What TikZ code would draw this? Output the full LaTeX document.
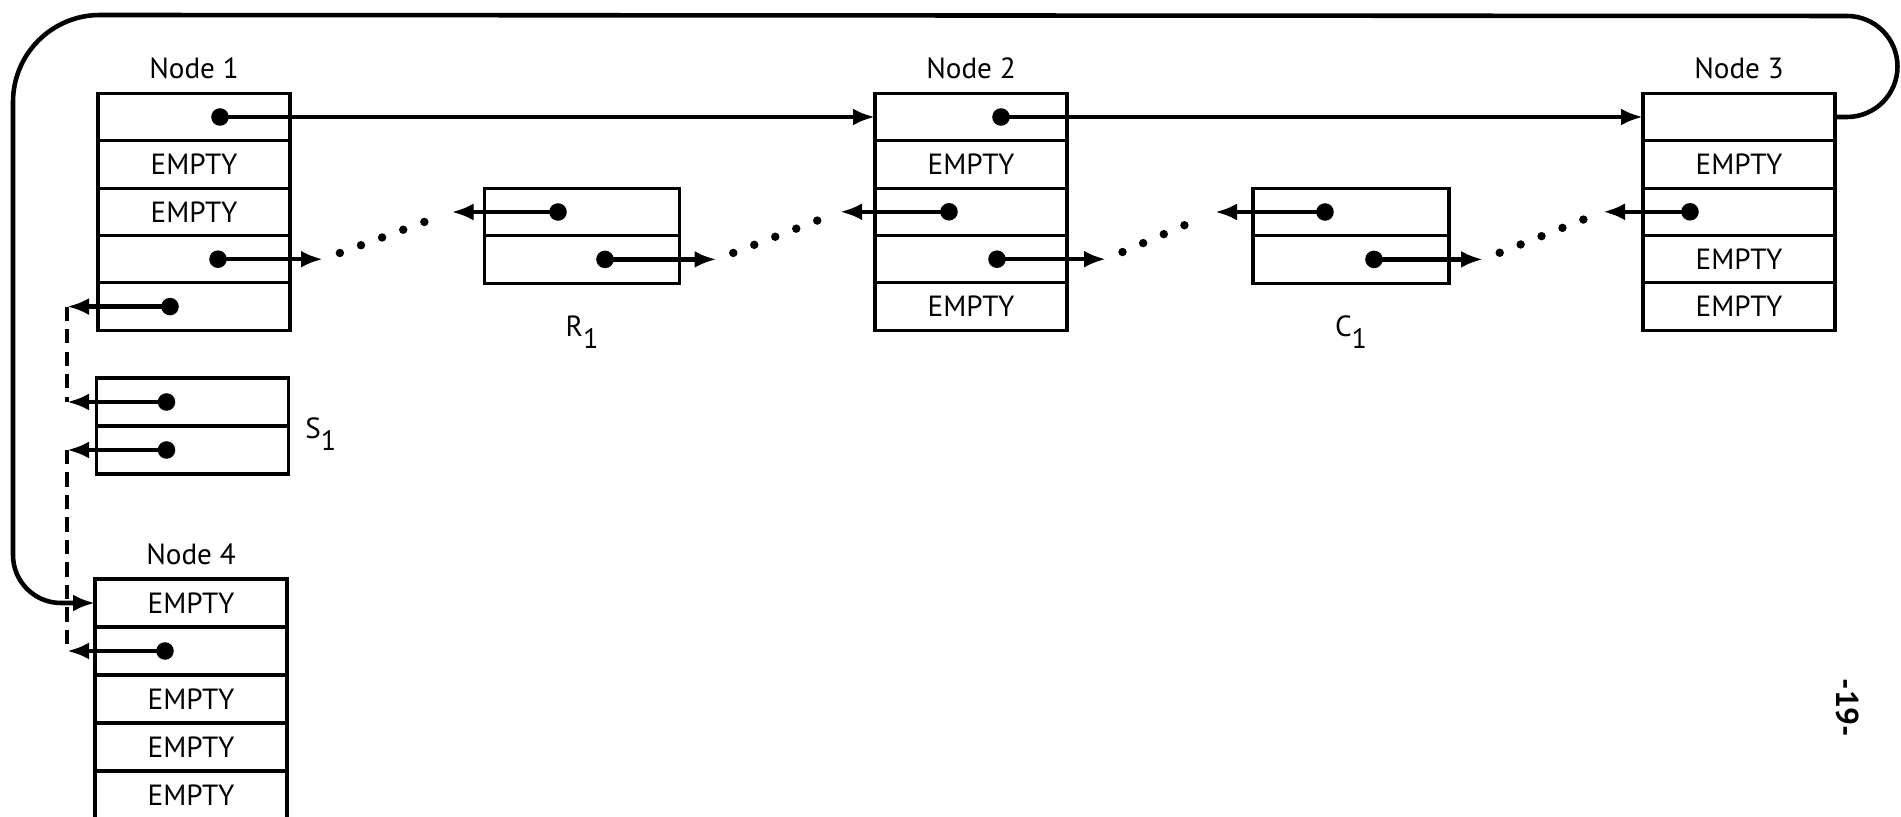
\documentclass[tikz,border=0pt]{standalone}
\usepackage{fontspec}
\setmainfont{PT Sans}
\usepackage{tikz}
\usetikzlibrary{positioning}
\usetikzlibrary{calc}
\usetikzlibrary{arrows.meta}

\newcommand{\lowidx}[1]{\raisebox{-0.8ex}{\fontsize{8}{9}\selectfont #1}}

\tikzset{
  cell/.style={draw, line width=0.9pt, minimum width=1.92cm, minimum height=0.474cm, inner sep=0pt, outer sep=0pt},
  ptr/.style={line width=1.3pt, -{Latex[length=0.22cm,width=0.17cm]}},
  trail/.style={line width=2.4pt, line cap=round, dash pattern=on 0pt off 6.4pt, shorten <=0.18cm, shorten >=0.18cm},
  chain/.style={line width=1.1pt, dash pattern=on 4pt off 2.4pt},
  lbl/.style={inner sep=0pt},
}

\begin{document}
\begin{tikzpicture}[line width=1pt, font=\fontsize{8.3}{10}\selectfont]
    \useasboundingbox (0,0) rectangle (19.01,8.17);

    % Node 1
    \node[cell] (n1a) at (1.94,7.0) {};
    \node[cell, below=0pt of n1a] (n1b) {EMPTY};
    \node[cell, below=0pt of n1b] (n1c) {EMPTY};
    \node[cell, below=0pt of n1c] (n1d) {};
    \node[cell, below=0pt of n1d] (n1e) {};
    \node[lbl, above=0.13cm of n1a] (l1) {Node 1};

    % Node 2
    \node[cell] (n2a) at (9.71,7.0) {};
    \node[cell, below=0pt of n2a] (n2b) {EMPTY};
    \node[cell, below=0pt of n2b] (n2c) {};
    \node[cell, below=0pt of n2c] (n2d) {};
    \node[cell, below=0pt of n2d] (n2e) {EMPTY};
    \node[lbl, above=0.13cm of n2a] (l2) {Node 2};

    % Node 3
    \node[cell] (n3a) at (17.39,7.0) {};
    \node[cell, below=0pt of n3a] (n3b) {EMPTY};
    \node[cell, below=0pt of n3b] (n3c) {};
    \node[cell, below=0pt of n3c] (n3d) {EMPTY};
    \node[cell, below=0pt of n3d] (n3e) {EMPTY};
    \node[lbl, above=0.13cm of n3a] (l3) {Node 3};

    % R1 and C1
    \node[cell, minimum width=1.95cm] (r1a) at (5.82,6.05) {};
    \node[cell, minimum width=1.95cm, below=0pt of r1a] (r1b) {};
    \node[lbl, below=0.31cm of r1b] (lr1) {R\lowidx{1}};

    \node[cell, minimum width=1.96cm] (c1a) at (13.51,6.05) {};
    \node[cell, minimum width=1.96cm, below=0pt of c1a] (c1b) {};
    \node[lbl, below=0.31cm of c1b] (lc1) {C\lowidx{1}};

    % S1
    \node[cell, minimum height=0.48cm] (s1a) at (1.925,4.15) {};
    \node[cell, minimum height=0.48cm, below=0pt of s1a] (s1b) {};
    \node[lbl, anchor=base west] (ls1) at ($(s1a.south east)+(0.15,-0.125)$) {S\lowidx{1}};

    % Node 4
    \node[cell, minimum height=0.48cm] (n4a) at (1.91,2.14) {EMPTY};
    \node[cell, minimum height=0.48cm, below=0pt of n4a] (n4b) {};
    \node[cell, minimum height=0.48cm, below=0pt of n4b] (n4c) {EMPTY};
    \node[cell, minimum height=0.48cm, below=0pt of n4c] (n4d) {EMPTY};
    \node[cell, minimum height=0.48cm, below=0pt of n4d] (n4e) {EMPTY};
    \node[lbl, above=0.12cm of n4a] (l4) {Node 4};

    % pointer dots
    \coordinate (d1a) at ($(n1a.center)+(0.26,0)$);
    \coordinate (d1d) at ($(n1d.center)+(0.24,0)$);
    \coordinate (d1e) at ($(n1e.center)+(-0.24,0)$);
    \coordinate (d2a) at ($(n2a.center)+(0.30,0)$);
    \coordinate (d2c) at ($(n2c.center)+(-0.22,0)$);
    \coordinate (d2d) at ($(n2d.center)+(0.26,0)$);
    \coordinate (d3c) at ($(n3c.center)+(-0.49,0)$);
    \coordinate (dr1a) at ($(r1a.center)+(-0.24,0)$);
    \coordinate (dr1b) at ($(r1b.center)+(0.23,0)$);
    \coordinate (dc1a) at ($(c1a.center)+(-0.26,0)$);
    \coordinate (dc1b) at ($(c1b.center)+(0.23,0)$);
    \coordinate (ds1a) at ($(s1a.center)+(-0.26,0)$);
    \coordinate (ds1b) at ($(s1b.center)+(-0.26,0)$);
    \coordinate (d4b) at ($(n4b.center)+(-0.26,0)$);

    % arrow tips
    \coordinate (bus) at (0.67,0);
    \coordinate (t1d) at ($(n1d.east)+(0.33,0)$);
    \coordinate (t1e) at (n1e.center -| bus);
    \coordinate (tr1a) at ($(r1a.west)+(-0.33,0)$);
    \coordinate (tr1b) at ($(r1b.east)+(0.37,0)$);
    \coordinate (t2c) at ($(n2c.west)+(-0.35,0)$);
    \coordinate (t2d) at ($(n2d.east)+(0.39,0)$);
    \coordinate (tc1a) at ($(c1a.west)+(-0.38,0)$);
    \coordinate (tc1b) at ($(c1b.east)+(0.34,0)$);
    \coordinate (t3c) at ($(n3c.west)+(-0.40,0)$);
    \coordinate (ts1a) at (s1a.center -| bus);
    \coordinate (ts1b) at (s1b.center -| bus);
    \coordinate (t4b) at (n4b.center -| bus);

    \draw[ptr] (d1a) -- (n2a.west);
    \draw[ptr] (d2a) -- (n3a.west);
    \draw[ptr] (d1d) -- (t1d);
    \draw[ptr] (d1e) -- (t1e);
    \draw[ptr] (dr1a) -- (tr1a);
    \draw[ptr] (dr1b) -- (tr1b);
    \draw[ptr] (d2c) -- (t2c);
    \draw[ptr] (d2d) -- (t2d);
    \draw[ptr] (dc1a) -- (tc1a);
    \draw[ptr] (dc1b) -- (tc1b);
    \draw[ptr] (d3c) -- (t3c);
    \draw[ptr] (ds1a) -- (ts1a);
    \draw[ptr] (ds1b) -- (ts1b);
    \draw[ptr] (d4b) -- (t4b);

    \foreach \d in {d1a,d1d,d1e,d2a,d2c,d2d,d3c,dr1a,dr1b,dc1a,dc1b,ds1a,ds1b,d4b}
        \fill (\d) circle (2.5pt);

    % dotted trails
    \draw[trail] (t1d) -- (tr1a);
    \draw[trail] (tr1b) -- (t2c);
    \draw[trail] (t2d) -- (tc1a);
    \draw[trail] (tc1b) -- (t3c);

    % dashed chain on the left
    \draw[chain] (t1e) -- (ts1a);
    \draw[chain] (ts1b) -- (t4b);

    % loop from Node 3 back round to Node 4
    \draw[line width=1.3pt, -{Latex[length=0.22cm,width=0.17cm]}]
        (n3a.east) -- ++(0.12,0) arc[start angle=-90, end angle=90, radius=0.505]
        -- (1.00,8.02) arc[start angle=90, end angle=180, radius=0.87]
        -- (0.13,2.62) arc[start angle=180, end angle=270, radius=0.48]
        -- (n4a.west);

    % page number
    \node[font=\fontsize{9}{10}\selectfont\bfseries, rotate=-90] (pg) at (18.48,1.09) {-19-};
\end{tikzpicture}
\end{document}
